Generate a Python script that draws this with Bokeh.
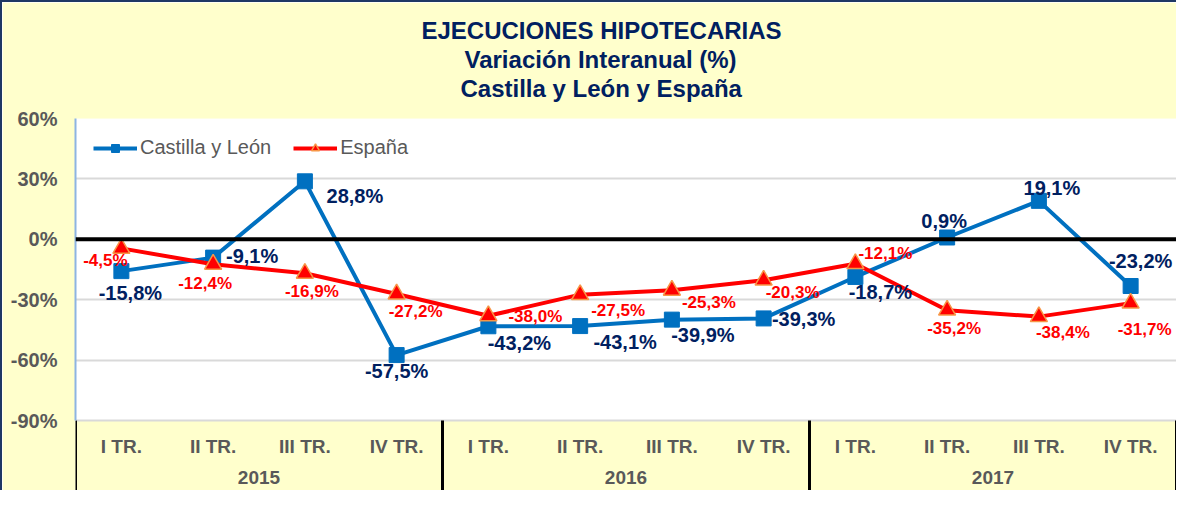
from bokeh.plotting import figure
from bokeh.models import (ColumnDataSource, FactorRange, Range1d, FixedTicker, PrintfTickFormatter,
                          Span, Title, Legend, LegendItem, LabelSet, BoxAnnotation)
from bokeh.core.properties import value
from bokeh.embed import file_html
from bokeh.resources import INLINE

# ---------------- data ----------------
years = ["2015", "2016", "2017"]
quarters = ["I TR.", "II TR.", "III TR.", "IV TR."]
cyl = [-15.8, -9.1, 28.8, -57.5, -43.2, -43.1, -39.9, -39.3, -18.7, 0.9, 19.1, -23.2]
esp = [-4.5, -12.4, -16.9, -27.2, -38.0, -27.5, -25.3, -20.3, -12.1, -35.2, -38.4, -31.7]
y_ticks = [-90, -60, -30, 0, 30, 60]
title_lines = ["EJECUCIONES HIPOTECARIAS", "Variación Interanual (%)", "Castilla y León y España"]
series_names = ["Castilla y León", "España"]

# label placement (pixels: dx to the right, dy downward)
cyl_dx = [9, 39, 50, 0, 31, 45, 31, 40, 25, -3, 13, 10]
cyl_dy = [22, -2, 15, 16, 17, 16, 15, 1, 15, -16, -13, -25]
esp_dx = [-16, -8, 7, 19, 47, 38, 37, 29, 30, 7, 24, 14]
esp_dy = [12, 19, 18, 17, 1, 16, 12, 12, -10, 18, 16, 26]
# title line left offsets (px from plot-area left) so the lines centre on the chart
title_offsets = [346, 389, 385]

FONT = "Liberation Sans"
NAVY = "#002060"
GREY = "#595959"
BLUE = "#0070C0"
RED = "#FF0000"
YELLOW = "#FFFFCC"

factors = [(y, q) for y in years for q in quarters]


def fmt(v):
    return ("%.1f%%" % v).replace(".", ",")


src = ColumnDataSource(dict(
    x=factors, cyl=cyl, esp=esp,
    cyl_txt=[fmt(v) for v in cyl], esp_txt=[fmt(v) for v in esp],
    cdx=cyl_dx, cdy=[-d for d in cyl_dy],
    edx=esp_dx, edy=[-d for d in esp_dy],
))

W, H = 1176, 490
B_TOP, B_LEFT, B_RIGHT = 116, 73, 2
PLOT_H = 302          # height of the value area (60% .. -90%)
AXIS_H = H - B_TOP - PLOT_H   # category-label band below it

y_lo, y_hi = min(y_ticks), max(y_ticks)
upp = (y_hi - y_lo) / PLOT_H          # data units per pixel
y_start = y_lo - AXIS_H * upp

p = figure(width=W, height=H, title=None,
           x_range=FactorRange(*factors, factor_padding=0, group_padding=0,
                               subgroup_padding=0, range_padding=0),
           y_range=Range1d(y_start, y_hi),
           output_backend="svg", toolbar_location=None,
           min_border_left=B_LEFT, min_border_right=B_RIGHT,
           min_border_top=B_TOP, min_border_bottom=0,
           background_fill_color=YELLOW, border_fill_color=YELLOW,
           outline_line_color=None,
           styles={"border-left": "2px solid #1F3864", "border-top": "2px solid #1F3864"})

# white plot area
p.add_layout(BoxAnnotation(bottom=y_lo, fill_color="white", fill_alpha=1,
                           line_color=None, level="image"))

# titles (stacked upward from the plot area, a small spacer first)
p.add_layout(Title(text=" ", text_font_size="13px", standoff=0), "above")
for txt, off in zip(reversed(title_lines), reversed(title_offsets)):
    p.add_layout(Title(text=txt, align="left", offset=off, text_font=FONT,
                       text_font_size="24px", text_font_style="bold", text_color=NAVY,
                       standoff=0), "above")

# y axis
p.yaxis.ticker = FixedTicker(ticks=y_ticks)
p.yaxis.bounds = (y_lo, y_hi)
p.yaxis.formatter = PrintfTickFormatter(format="%d%%")
p.yaxis.major_label_text_font = FONT
p.yaxis.major_label_text_font_size = "20px"
p.yaxis.major_label_text_font_style = "bold"
p.yaxis.major_label_text_color = GREY
p.yaxis.major_label_standoff = 12
p.yaxis.major_tick_line_color = None
p.yaxis.minor_tick_line_color = None
p.yaxis.axis_line_color = "#8DB4E2"
p.yaxis.axis_line_width = 2
p.xaxis.visible = False

p.xgrid.visible = False
p.ygrid.ticker = FixedTicker(ticks=y_ticks)
p.ygrid.grid_line_color = "#D9D9D9"
p.ygrid.grid_line_width = 2

p.add_layout(Span(location=0, dimension="width", line_color="black", line_width=4))

# category labels (quarters, years) and group separators in the band below
p.text(x=factors, y=[y_lo - 26 * upp] * len(factors), text=[q for _, q in factors],
       text_align="center", text_baseline="middle", text_font=value(FONT),
       text_font_size="19px", text_font_style="bold", text_color=GREY)
p.text(x=years, y=[y_lo - 57 * upp] * len(years), text=years,
       text_align="center", text_baseline="middle", text_font=value(FONT),
       text_font_size="19px", text_font_style="bold", text_color=GREY)
edges = [0]
for y in years:
    edges.append(edges[-1] + len(quarters))
p.segment(x0=edges, x1=edges, y0=[y_lo] * len(edges), y1=[y_start] * len(edges),
          line_color="black", line_width=3)

# series
l1 = p.line(x="x", y="cyl", source=src, line_color=BLUE, line_width=4)
s1 = p.scatter(x="x", y="cyl", source=src, marker="square", size=15,
               fill_color=BLUE, line_color=BLUE)
l2 = p.line(x="x", y="esp", source=src, line_color=RED, line_width=4)
s2 = p.scatter(x="x", y="esp", source=src, marker="triangle", size=17,
               fill_color=RED, line_color="#F79646", line_width=1.5)

p.add_layout(LabelSet(x="x", y="cyl", text="cyl_txt", source=src, x_offset="cdx", y_offset="cdy",
                      text_align="center", text_baseline="middle", text_font=value(FONT),
                      text_font_size="20px", text_font_style="bold", text_color=NAVY))
p.add_layout(LabelSet(x="x", y="esp", text="esp_txt", source=src, x_offset="edx", y_offset="edy",
                      text_align="center", text_baseline="middle", text_font=value(FONT),
                      text_font_size="17px", text_font_style="bold", text_color=RED))

legend = Legend(items=[LegendItem(label=series_names[0], renderers=[l1, s1]),
                       LegendItem(label=series_names[1], renderers=[l2, s2])],
                location="top_left", orientation="horizontal", margin=18, padding=5,
                spacing=22, glyph_width=44, glyph_height=20, label_standoff=3,
                label_text_font=FONT, label_text_font_size="20px", label_text_color=GREY,
                border_line_color=None, background_fill_color="white", background_fill_alpha=1)
p.add_layout(legend)

open("out.html", "w").write(file_html(p, INLINE))
